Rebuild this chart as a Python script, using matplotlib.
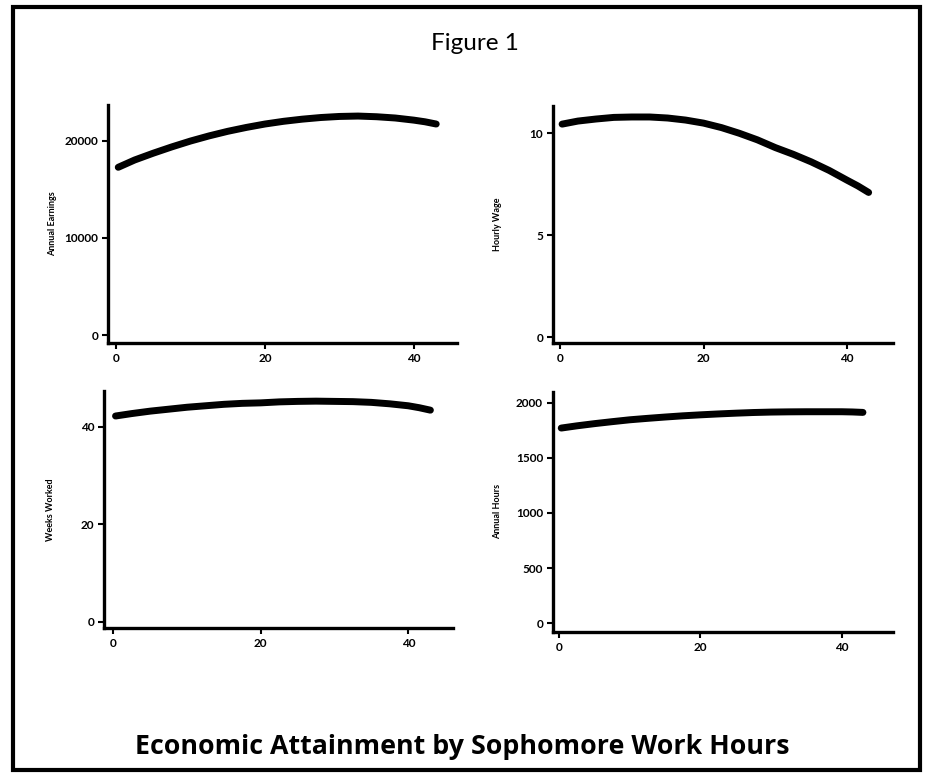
import numpy as np
import matplotlib
matplotlib.use("Agg")
import matplotlib.pyplot as plt
from matplotlib.patches import Rectangle

plt.rcParams['font.family'] = ['Lato', 'DejaVu Sans']

# sophomore work hours (x) and the fitted outcomes
hours = [0.3, 2.5, 5, 7.5, 10, 12.5, 15, 17.5, 20, 22.5, 25, 27.5, 30,
         32.5, 35, 37.5, 40, 41.5, 43]
earnings = [17250, 18000, 18700, 19350, 19950, 20480, 20950, 21350, 21700,
            21980, 22200, 22370, 22480, 22520, 22450, 22320, 22100, 21930, 21700]
wage = [10.45, 10.6, 10.7, 10.78, 10.8, 10.8, 10.75, 10.65, 10.5, 10.28,
        10.0, 9.68, 9.3, 8.97, 8.6, 8.18, 7.7, 7.42, 7.1]
weeks = [42.2, 42.7, 43.2, 43.6, 44.0, 44.3, 44.6, 44.8, 44.9, 45.1,
         45.2, 45.25, 45.2, 45.15, 45.0, 44.7, 44.3, 43.9, 43.4]
annual_hours = [1770, 1790, 1810, 1828, 1845, 1858, 1870, 1881, 1890, 1898,
                1905, 1911, 1915, 1917, 1918, 1918, 1918, 1916, 1912]

panels = [
    # series, ylabel, yticks, ytick labels, ylim, xlim, axes rect, ylabel x (fig px)
    (earnings, "Annual Earnings", [0, 10000, 20000], ["0", "10000", "20000"],
     (-820, 23660), (-1.07, 45.8), [0.1163, 0.5563, 0.3757, 0.3079], 53),
    (wage, "Hourly Wage", [0, 5, 10], ["0", "5", "10"],
     (-0.28, 11.34), (-1.0, 46.4), [0.595, 0.5563, 0.3663, 0.3066], 498),
    (weeks, "Weeks Worked", [0, 20, 40], ["0", "20", "40"],
     (-1.37, 47.4), (-1.27, 46.1), [0.1119, 0.1872, 0.376, 0.3074], 51),
    (annual_hours, "Annual Hours", [0, 500, 1000, 1500, 2000],
     ["0", "500", "1000", "1500", "2000"],
     (-80, 2100), (-0.9, 47.3), [0.595, 0.1824, 0.3666, 0.3109], 498),
]

fig = plt.figure(figsize=(9.29, 7.73), dpi=100)

for vals, lab, yt, ytl, ylim, xlim, rect, labx in panels:
    ax = fig.add_axes(rect)
    ax.plot(hours, vals, color='black', linewidth=5, solid_capstyle='round',
            solid_joinstyle='round')
    ax.set_xlim(*xlim)
    ax.set_ylim(*ylim)
    ax.set_xticks([0, 20, 40])
    ax.set_yticks(yt)
    ax.set_yticklabels(ytl)
    for s in ['top', 'right']:
        ax.spines[s].set_visible(False)
    for s in ['left', 'bottom']:
        ax.spines[s].set_linewidth(2.4)
    ax.tick_params(direction='out', length=4, width=1.5, labelsize=8.5, pad=3)
    for t in ax.get_xticklabels() + ax.get_yticklabels():
        t.set_fontweight('bold')
    # y label placed in figure coordinates
    cy = rect[1] + rect[3] / 2
    fig.text(labx / 929, cy, lab, rotation=90, ha='center', va='center',
             fontsize=6.5, fontweight='bold')

fig.text(475 / 929, 1 - 43 / 773, "Figure 1", ha='center', va='center',
         fontsize=17.5, fontweight='normal')
fig.text(462 / 929, 1 - 747 / 773, "Economic Attainment by Sophomore Work Hours",
         ha='center', va='center', fontsize=19.3, fontweight='bold',
         family=['Open Sans', 'DejaVu Sans'])

fig.add_artist(Rectangle((13 / 929, 1 - 770 / 773), 907 / 929, 763 / 773,
                         transform=fig.transFigure, fill=False,
                         edgecolor='black', linewidth=3))

fig.savefig("out.png", dpi=100)
